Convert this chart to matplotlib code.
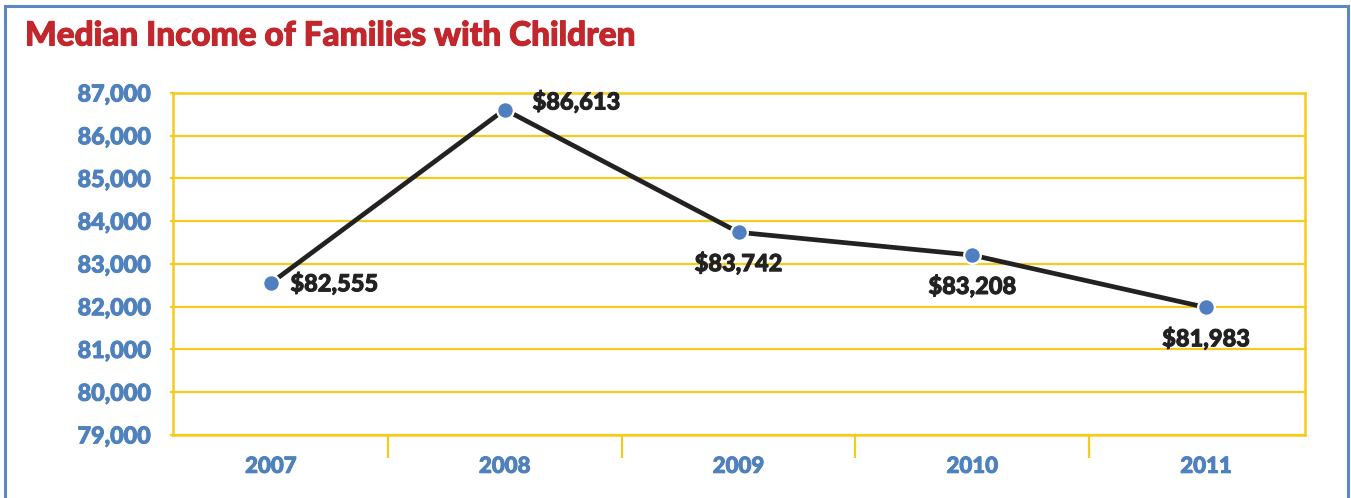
import matplotlib
matplotlib.use("Agg")
import matplotlib.pyplot as plt
import matplotlib.patheffects as pe
from matplotlib.patches import Rectangle
from matplotlib.ticker import FuncFormatter

years = ["2007", "2008", "2009", "2010", "2011"]
income = [82555, 86613, 83742, 83208, 81983]
value_labels = ["$82,555", "$86,613", "$83,742", "$83,208", "$81,983"]
yticks = [79000, 80000, 81000, 82000, 83000, 84000, 85000, 86000, 87000]
title = "Median Income of Families with Children"

RED = "#C1272D"
BLUE = "#4F81BD"
YEL = "#F5CB1C"
DARK = "#222222"
FONT = ["Lato", "DejaVu Sans"]
WT = 900


def thick(color, w=0.7):
    return [pe.withStroke(linewidth=w, foreground=color)]


fig = plt.figure(figsize=(13.51, 4.98), dpi=100)
W, H = 1351, 498

ax = fig.add_axes([173 / W, 1 - 435 / H, (1305 - 173) / W, (435 - 93) / H])
x = list(range(len(years)))
ax.plot(x, income, color=DARK, lw=3.4, zorder=3, solid_capstyle="butt")
ax.plot(x, income, ls="none", marker="o", ms=12, mfc="#4F7FC1", mec="white", mew=1.6, zorder=4)

ax.set_xlim(-0.419, 4.423)
ax.set_ylim(79000, 87000)
ax.set_yticks(yticks)
ax.yaxis.set_major_formatter(FuncFormatter(lambda v, p: f"{int(v):,}"))
ax.grid(axis="y", color=YEL, lw=1.6)
ax.set_axisbelow(True)
for s in ax.spines.values():
    s.set_color(YEL)
    s.set_linewidth(1.8)

ax.set_xticks(x)
ax.set_xticklabels(years)
ax.set_xticks([0.5, 1.5, 2.5, 3.5], minor=True)
ax.tick_params(axis="x", which="major", length=0, pad=15, labelcolor=BLUE, labelsize=16)
ax.tick_params(axis="x", which="minor", length=16.5, width=1.6, color=YEL, direction="out")
ax.tick_params(axis="y", length=2, width=1.6, color=YEL, pad=14, labelcolor=BLUE, labelsize=16.8)
for lab in ax.get_xticklabels() + ax.get_yticklabels():
    lab.set_fontfamily(FONT)
    lab.set_fontweight(WT)
    lab.set_path_effects(thick(BLUE))

# data labels: offsets in points
offsets = [(14, 0, "left", "center"), (20, 6, "left", "center"),
           (0, -22, "center", "center"), (0, -22, "center", "center"),
           (0, -22, "center", "center")]
for xi, yi, txt, (dx, dy, ha, va) in zip(x, income, value_labels, offsets):
    ax.annotate(txt, (xi, yi), xytext=(dx, dy), textcoords="offset points",
                ha=ha, va=va, fontsize=17, fontweight=WT, color=DARK,
                family=FONT, zorder=5, path_effects=thick(DARK))

fig.text(25 / W, 1 - 36 / H, title, color=RED, fontsize=24, fontweight=WT,
         family=FONT, ha="left", va="center", path_effects=thick(RED, 0.8))

fig.patches.append(Rectangle((5 / W, -0.05), (1348 - 5) / W, 1.05 - 6 / H,
                             transform=fig.transFigure, fill=False,
                             edgecolor="#5B87C5", lw=2.2, zorder=10))

fig.savefig("out.png", dpi=100)
